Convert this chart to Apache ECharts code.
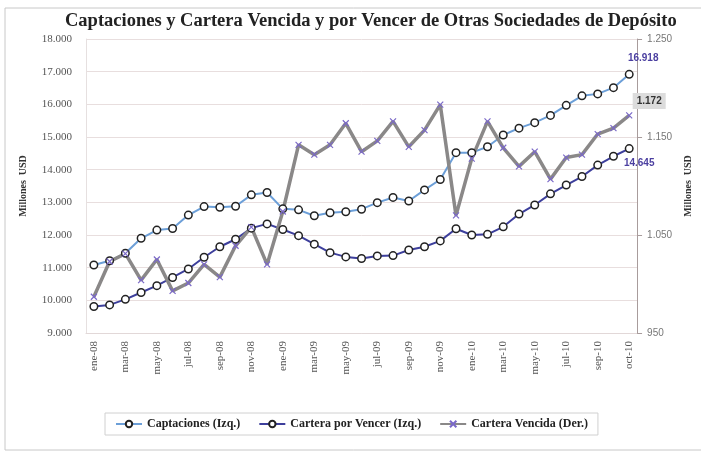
<!DOCTYPE html>
<html>
<head>
<meta charset="utf-8">
<script src="https://cdn.jsdelivr.net/npm/echarts@6/dist/echarts.min.js"></script>
<style>
  html, body { margin: 0; padding: 0; background: #fff; }
  #chart { width: 701px; height: 456px; }
</style>
</head>
<body>
<div id="chart"></div>
<script>
// meses (el penúltimo punto no lleva etiqueta en el original)
var meses = ['ene-08','feb-08','mar-08','abr-08','may-08','jun-08','jul-08','ago-08','sep-08','oct-08','nov-08','dic-08',
             'ene-09','feb-09','mar-09','abr-09','may-09','jun-09','jul-09','ago-09','sep-09','oct-09','nov-09','dic-09',
             'ene-10','feb-10','mar-10','abr-10','may-10','jun-10','jul-10','ago-10','sep-10','sep/oct-10','oct-10'];

var captaciones = [11080, 11210, 11440, 11900, 12150, 12200, 12610, 12870, 12850, 12880, 13230, 13300,
                   12800, 12770, 12590, 12680, 12710, 12790, 12990, 13150, 13040, 13380, 13700, 14520,
                   14520, 14700, 15060, 15270, 15440, 15660, 15970, 16260, 16320, 16510, 16918];

var porVencer = [9810, 9860, 10030, 10240, 10450, 10700, 10960, 11320, 11640, 11870, 12210, 12340,
                 12170, 11980, 11720, 11460, 11330, 11280, 11360, 11370, 11540, 11640, 11820, 12190,
                 12000, 12020, 12250, 12640, 12920, 13260, 13530, 13790, 14140, 14410, 14645];

var vencida = [987, 1023, 1031, 1004, 1025, 993, 1001, 1020, 1007, 1039, 1058, 1020,
               1074, 1142, 1132, 1142, 1164, 1135, 1146, 1166, 1140, 1157, 1183, 1070,
               1128, 1166, 1139, 1120, 1135, 1107, 1129, 1132, 1153, 1159, 1172];

var nombres = ['Captaciones (Izq.)', 'Cartera por Vencer (Izq.)', 'Cartera Vencida (Der.)'];

function miles(v) {
    return String(Math.round(v)).replace(/\B(?=(\d{3})+(?!\d))/g, '.');
}

// etiqueta solo en el ultimo punto
function conEtiqueta(valores, label) {
    return valores.map(function (v, i) {
        if (i === valores.length - 1) {
            return { value: v, label: label };
        }
        return v;
    });
}

var serif = 'Liberation Serif';
var sans = 'Liberation Sans';

var chart = echarts.init(document.getElementById('chart'));
var option = {
    backgroundColor: '#fff',
    animation: false,
    title: {
        text: 'Captaciones y Cartera Vencida y por Vencer de Otras Sociedades de Depósito',
        left: 60,
        top: 7,
        textStyle: { fontFamily: serif, fontWeight: 'bold', fontSize: 18.5, color: '#222' }
    },
    graphic: [{
        type: 'rect',
        shape: { x: 5, y: 8, width: 700, height: 442 },
        style: { fill: 'none', stroke: '#c8c8c8', lineWidth: 1 },
        silent: true
    }],
    legend: {
        data: nombres,
        left: 105,
        top: 413,
        padding: [5, 10],
        itemGap: 18,
        itemWidth: 26,
        itemHeight: 8,
        borderColor: '#d0d0d0',
        borderWidth: 1,
        textStyle: { fontFamily: serif, fontWeight: 'bold', fontSize: 12, color: '#222' }
    },
    grid: { left: 86, right: 56, top: 39, bottom: 123 },
    xAxis: {
        type: 'category',
        data: meses,
        boundaryGap: true,
        axisLine: { lineStyle: { color: '#e2d8d8' } },
        axisTick: { interval: 1, length: 4, lineStyle: { color: '#c8bcbc' } },
        axisLabel: {
            interval: 1,
            rotate: 90,
            margin: 8,
            fontFamily: serif,
            fontSize: 11,
            color: '#555'
        }
    },
    yAxis: [{
        type: 'value',
        min: 9000,
        max: 18000,
        interval: 1000,
        name: 'Millones  USD',
        nameLocation: 'middle',
        nameRotate: 90,
        nameGap: 58,
        nameTextStyle: { fontFamily: serif, fontWeight: 'bold', fontSize: 10, color: '#333' },
        axisLine: { show: true, lineStyle: { color: '#e6e0e0' } },
        axisTick: { show: false },
        axisLabel: { fontFamily: serif, fontSize: 11, color: '#555', margin: 14, formatter: miles },
        splitLine: { lineStyle: { color: '#e8dede' } }
    }, {
        type: 'value',
        min: 950,
        max: 1250,
        interval: 100,
        name: 'Millones  USD',
        nameLocation: 'middle',
        nameRotate: 90,
        nameGap: 42,
        nameTextStyle: { fontFamily: serif, fontWeight: 'bold', fontSize: 10, color: '#333' },
        axisLine: { show: true, lineStyle: { color: '#a89c9c' } },
        axisTick: { show: true, length: 5, lineStyle: { color: '#a89c9c' } },
        axisLabel: { fontFamily: sans, fontSize: 10, color: '#777', margin: 10, formatter: miles },
        splitLine: { show: false }
    }],
    series: [{
        name: nombres[0],
        type: 'line',
        yAxisIndex: 0,
        data: conEtiqueta(captaciones, {
            show: true, position: 'top', offset: [14, -2],
            formatter: function (p) { return miles(p.value); },
            fontFamily: sans, fontWeight: 'bold', fontSize: 10, color: '#4b3fa0'
        }),
        symbol: 'circle',
        symbolSize: 7.5,
        lineStyle: { color: '#6c9fd8', width: 2 },
        itemStyle: { color: '#fff', borderColor: '#222', borderWidth: 1.5 }
    }, {
        name: nombres[1],
        type: 'line',
        yAxisIndex: 0,
        data: conEtiqueta(porVencer, {
            show: true, position: 'bottom', offset: [10, 0],
            formatter: function (p) { return miles(p.value); },
            fontFamily: sans, fontWeight: 'bold', fontSize: 10, color: '#4b3fa0'
        }),
        symbol: 'circle',
        symbolSize: 7.5,
        lineStyle: { color: '#3d3f9c', width: 2 },
        itemStyle: { color: '#fff', borderColor: '#222', borderWidth: 1.5 }
    }, {
        name: nombres[2],
        type: 'line',
        yAxisIndex: 1,
        data: conEtiqueta(vencida, {
            show: true, position: 'top', offset: [20, 4],
            formatter: function (p) { return miles(p.value); },
            backgroundColor: '#dcdcdc',
            padding: [3, 4],
            fontFamily: sans, fontWeight: 'bold', fontSize: 10, color: '#333'
        }),
        symbol: 'path://M0,0L10,10M10,0L0,10',
        symbolSize: 6,
        lineStyle: { color: '#8a8888', width: 3.5 },
        itemStyle: { color: 'none', borderColor: '#7a68c8', borderWidth: 1.2 }
    }]
};
chart.setOption(option);
window.addEventListener('resize', chart.resize);
</script>
</body>
</html>
